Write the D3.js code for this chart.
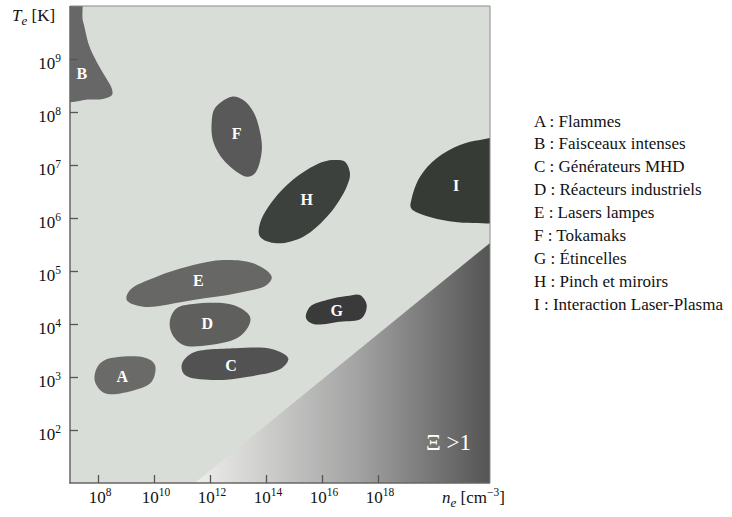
<!DOCTYPE html>
<html>
<head>
<meta charset="utf-8">
<script src="https://cdn.jsdelivr.net/npm/d3@7"></script>
<style>
  html, body { margin: 0; padding: 0; background: #ffffff; }
  svg { display: block; }
</style>
</head>
<body>
<script>
// ---------- DATA (log10 units: [log10 n_e (cm^-3), log10 T_e (K)]) ----------
const xTickExponents = [8, 10, 12, 14, 16, 18];
const yTickExponents = [2, 3, 4, 5, 6, 7, 8, 9];

const regionIds   = ["A", "B", "C", "D", "E", "F", "G", "H", "I"];
const regionNames = ["Flammes", "Faisceaux intenses", "Générateurs MHD", "Réacteurs industriels",
                     "Lasers lampes", "Tokamaks", "Étincelles", "Pinch et miroirs", "Interaction Laser-Plasma"];

const outlineA = [[8.25,3.321],[9.679,3.364],[10.036,3.226],[9.918,2.911],[9.321,2.755],[8.25,2.692],[7.893,2.911],[7.954,3.164]];
const outlineB = [[6.71,10.3],[7.36,10.3],[7.45,9.75],[7.5,9.64],[7.68,9.26],[7.96,8.94],[8.29,8.64],[8.5,8.43],[8.5,8.32],[8.21,8.25],[7.64,8.235],[6.71,8.23]];
const outlineC = [[11.346,3.447],[12.893,3.542],[14.204,3.528],[14.796,3.353],[14.561,3.164],[13.368,3.006],[12.061,2.943],[11.107,3.038],[10.989,3.226]];
const outlineD = [[11.404,4.377],[12.832,4.358],[13.429,4.138],[13.368,3.949],[12.954,3.730],[12.0,3.604],[11.046,3.604],[10.632,3.825],[10.571,4.075],[10.811,4.296]];
const outlineE = [[13.546,5.145],[14.204,4.893],[14.025,4.736],[12.954,4.579],[11.404,4.453],[9.618,4.326],[9.025,4.453],[9.143,4.642],[10.096,4.893],[11.404,5.113],[12.475,5.208]];
const outlineF = [[12.775,8.289],[12.179,8.075],[12.061,7.817],[12.118,7.440],[12.536,7.062],[13.311,6.779],[13.607,6.843],[13.846,7.251],[13.786,7.628],[13.546,8.006],[13.189,8.226]];
const outlineG = [[17.357,4.547],[17.596,4.358],[17.418,4.108],[16.643,4.043],[15.689,4.0],[15.429,4.108],[15.571,4.326],[16.168,4.453],[16.882,4.528]];
const outlineH = [[16.821,7.062],[17.0,6.843],[16.882,6.591],[16.286,6.089],[15.332,5.647],[14.382,5.523],[13.786,5.647],[13.786,5.9],[14.261,6.340],[15.096,6.779],[16.046,7.062],[16.525,7.094]];
const outlineI = [[22.357,7.472],[21.643,7.472],[20.929,7.377],[20.096,7.126],[19.5,6.779],[19.204,6.372],[19.179,6.189],[19.618,6.057],[20.689,5.930],[22.0,5.896],[22.357,5.887]];
const regionOutlines = [outlineA, outlineB, outlineC, outlineD, outlineE, outlineF, outlineG, outlineH, outlineI];

const labelPositions = [[8.868,3.006],[7.42,8.72],[12.75,3.213],[11.904,4.013],[11.582,4.817],[12.954,7.598],[16.525,4.264],[15.454,6.353],[20.786,6.609]];

// Boundary of the Xi > 1 region
const xiBoundary = [[11.46, 1], [22, 5.53]];

// ---------- STYLE ----------
const SERIF = "'Liberation Serif', 'DejaVu Serif', serif";
const regionFill = {A:"#6a6b69", B:"#676767", C:"#525252", D:"#5f5f5e", E:"#676765", F:"#595959", G:"#3a3a3a", H:"#3d413d", I:"#363b36"};

const W = 732, H = 517;
const svg = d3.select("body").append("svg").attr("width", W).attr("height", H)
  .attr("font-family", SERIF);

const x = d3.scaleLog().domain([1e7, 1e22]).range([70, 490]);
const y = d3.scaleLog().domain([1e1, 1e10]).range([483, 6]);
const px = d => x(Math.pow(10, d[0]));
const py = d => y(Math.pow(10, d[1]));

const defs = svg.append("defs");
defs.append("clipPath").attr("id", "plotclip")
  .append("rect").attr("x", x(1e7)).attr("y", y(1e10))
  .attr("width", x(1e22) - x(1e7)).attr("height", y(1e1) - y(1e10));

const grad = defs.append("linearGradient").attr("id", "xigrad")
  .attr("gradientUnits", "userSpaceOnUse")
  .attr("x1", px(xiBoundary[0])).attr("y1", 0)
  .attr("x2", px(xiBoundary[1])).attr("y2", 0);
grad.append("stop").attr("offset", 0).attr("stop-color", "#eeeeec");
grad.append("stop").attr("offset", 0.55).attr("stop-color", "#a3a3a3");
grad.append("stop").attr("offset", 1).attr("stop-color", "#545454");

// plot background
svg.append("rect")
  .attr("x", x(1e7)).attr("y", y(1e10))
  .attr("width", x(1e22) - x(1e7)).attr("height", y(1e1) - y(1e10))
  .attr("fill", "#d9ddd8");

const plot = svg.append("g").attr("clip-path", "url(#plotclip)");

// Xi > 1 triangle
const tri = [xiBoundary[0], xiBoundary[1], [xiBoundary[1][0], xiBoundary[0][1]]];
plot.append("path")
  .attr("d", d3.line().x(px).y(py)(tri) + "Z")
  .attr("fill", "url(#xigrad)");

// regions
const blob = d3.line().x(px).y(py).curve(d3.curveCatmullRomClosed.alpha(0.5));
plot.selectAll("path.region").data(regionIds).join("path")
  .attr("class", "region")
  .attr("d", (id, i) => blob(regionOutlines[i]))
  .attr("fill", id => regionFill[id]);

plot.selectAll("text.rlabel").data(regionIds).join("text")
  .attr("class", "rlabel")
  .attr("x", (id, i) => px(labelPositions[i]))
  .attr("y", (id, i) => py(labelPositions[i]))
  .attr("dy", "0.35em")
  .attr("text-anchor", "middle")
  .attr("fill", "#ffffff")
  .attr("font-family", SERIF)
  .attr("font-size", 16)
  .attr("font-weight", "bold")
  .text(d => d);

// Xi > 1 label
svg.append("text")
  .attr("x", 426).attr("y", 450)
  .attr("fill", "#ffffff").attr("font-size", 23).attr("font-family", SERIF)
  .text("Ξ >1");

// frame
svg.append("line").attr("x1", 70).attr("x2", 490).attr("y1", 6).attr("y2", 6)
  .attr("stroke", "#8a8a8a").attr("stroke-width", 1);
svg.append("line").attr("x1", 490).attr("x2", 490).attr("y1", 6).attr("y2", 483)
  .attr("stroke", "#8a8a8a").attr("stroke-width", 1);
svg.append("line").attr("x1", 70).attr("x2", 70).attr("y1", 6).attr("y2", 483.5)
  .attr("stroke", "#666666").attr("stroke-width", 1.5);
svg.append("line").attr("x1", 69.3).attr("x2", 490).attr("y1", 483).attr("y2", 483)
  .attr("stroke", "#666666").attr("stroke-width", 1.5);

// axes ticks (inward)
const yAxis = d3.axisRight(y).tickValues(yTickExponents.map(e => Math.pow(10, e)))
  .tickSize(8).tickFormat("");
const gy = svg.append("g").attr("transform", "translate(70,0)").call(yAxis);
gy.select(".domain").remove();
gy.selectAll(".tick line").attr("stroke", "#555").attr("stroke-width", 1.3);

const xAxis = d3.axisTop(x).tickValues(xTickExponents.map(e => Math.pow(10, e)))
  .tickSize(8).tickFormat("");
const gx = svg.append("g").attr("transform", "translate(0,483)").call(xAxis);
gx.select(".domain").remove();
gx.selectAll(".tick line").attr("stroke", "#555").attr("stroke-width", 1.3);

// tick labels with superscripts
const ylab = svg.selectAll("text.ylab").data(yTickExponents).join("text")
  .attr("class", "ylab")
  .attr("x", 61).attr("y", e => y(Math.pow(10, e)) + 10)
  .attr("text-anchor", "end").attr("font-size", 17).attr("font-family", SERIF).attr("fill", "#111");
ylab.append("tspan").text("10");
ylab.append("tspan").attr("dy", -7).attr("font-size", 11.5).text(e => e);

const xlab = svg.selectAll("text.xlab").data(xTickExponents).join("text")
  .attr("class", "xlab")
  .attr("x", e => x(Math.pow(10, e)) + 2).attr("y", 503)
  .attr("text-anchor", "middle").attr("font-size", 17).attr("font-family", SERIF).attr("fill", "#111");
xlab.append("tspan").text("10");
xlab.append("tspan").attr("dy", -7).attr("font-size", 11.5).text(e => e);

// axis titles
const yt = svg.append("text").attr("x", 12).attr("y", 21).attr("font-size", 17)
  .attr("font-family", SERIF).attr("fill", "#111");
yt.append("tspan").attr("font-style", "italic").text("T");
yt.append("tspan").attr("font-style", "italic").attr("font-size", 13).attr("dy", 4).text("e");
yt.append("tspan").attr("dy", -4).text(" [K]");

const xt = svg.append("text").attr("x", 442).attr("y", 503).attr("font-size", 17)
  .attr("font-family", SERIF).attr("fill", "#111");
xt.append("tspan").attr("font-style", "italic").text("n");
xt.append("tspan").attr("font-style", "italic").attr("font-size", 13).attr("dy", 4).text("e");
xt.append("tspan").attr("dy", -4).text(" [cm");
xt.append("tspan").attr("dy", -7).attr("font-size", 11.5).text("−3");
xt.append("tspan").attr("dy", 7).text("]");

// legend
svg.selectAll("text.legend").data(regionIds).join("text")
  .attr("class", "legend")
  .attr("x", 534)
  .attr("y", (d, i) => 126.5 + i * 22.9)
  .attr("font-size", 17).attr("font-family", SERIF).attr("fill", "#111")
  .text((d, i) => d + " : " + regionNames[i]);
</script>
</body>
</html>
